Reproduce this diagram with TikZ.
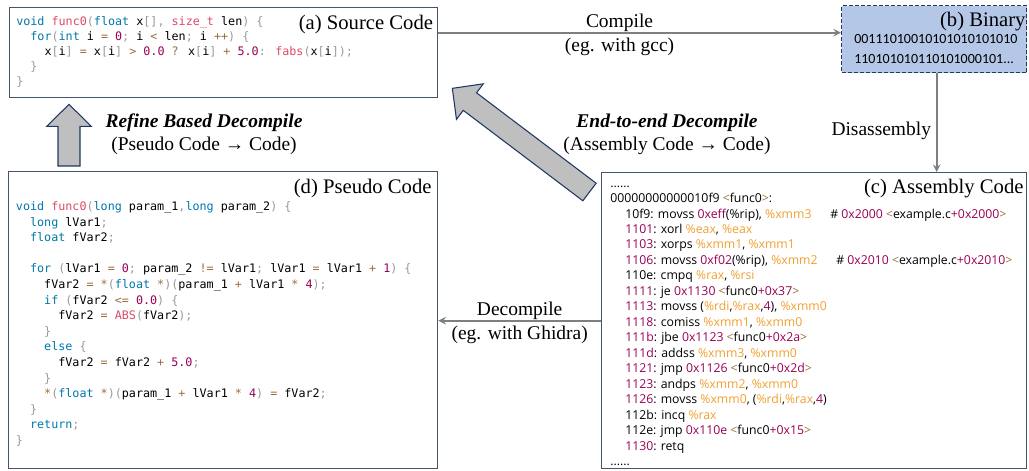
\documentclass[tikz,border=0pt]{standalone}
\usepackage{fontspec}
\setmainfont{Liberation Serif}
\newfontfamily\codefont{DejaVu Sans Mono}
\newfontfamily\asmfont{Open Sans}
\newfontfamily\binfont{Carlito}
\usetikzlibrary{calc}

\definecolor{boxline}{HTML}{44546A}
\definecolor{binfill}{HTML}{B4C7E7}
\definecolor{binline}{HTML}{203864}
\definecolor{arrowgray}{HTML}{7F7F7F}
\definecolor{blockfill}{HTML}{BFBFBF}
\definecolor{ckwc}{HTML}{0077AA}
\definecolor{cfnc}{HTML}{DD4A68}
\definecolor{cnumc}{HTML}{990055}
\definecolor{copc}{HTML}{9A6E3A}
\definecolor{cpuc}{HTML}{999999}
\definecolor{aregc}{HTML}{F0A030}

\newcommand{\ckw}[1]{\textcolor{ckwc}{#1}}
\newcommand{\cfn}[1]{\textcolor{cfnc}{#1}}
\newcommand{\cnum}[1]{\textcolor{cnumc}{#1}}
\newcommand{\cop}[1]{\textcolor{copc}{#1}}
\newcommand{\cpu}[1]{\textcolor{cpuc}{#1}}
\newcommand{\ind}{\hspace*{1.204em}}
\newcommand{\aad}[1]{\textcolor{cnumc}{#1}}
\newcommand{\areg}[1]{\textcolor{aregc}{#1}}
\newcommand{\aang}[1]{\textcolor{copc}{#1}}
\newcommand{\aind}{\hspace*{11.25pt}}

\begin{document}
\begin{tikzpicture}[x=0.75pt,y=-0.75pt,>=stealth,
    box/.style={draw=boxline,line width=1pt,inner sep=0,anchor=north west},
    boxtitle/.style={font=\fontsize{15.5}{18}\selectfont,inner sep=0,anchor=base east},
    lbl/.style={font=\fontsize{14.6}{17.25}\selectfont,inner sep=0,align=center},
    codetext/.style={font=\codefont\fontsize{8.8}{11.5}\selectfont,inner sep=0,align=left,anchor=north west},
    asmtext/.style={font=\asmfont\fontsize{9.2}{11.6}\selectfont,inner sep=0,align=left,anchor=north west},
    flow/.style={draw=arrowgray,line width=1.5pt,->},
    blockarrow/.style={fill=blockfill,draw=binline,line width=0.8pt}]
    \useasboundingbox (0,0) rectangle (1029,471);

    \node[box,minimum width=321pt,minimum height=67.5pt] (src) at (9,7) {};
    \node[box,draw=binline,fill=binfill,dash pattern=on 3pt off 1.5pt,minimum width=138.75pt,minimum height=50.25pt] (bin) at (841,5) {};
    \node[box,minimum width=318.75pt,minimum height=222pt] (asm) at (601,172) {};
    \node[box,minimum width=321.75pt,minimum height=222.75pt] (pseudo) at (8,171) {};

    \node[boxtitle] (srcname) at ([shift={(-5,22)}]src.north east) {(a) Source Code};
    \node[boxtitle] (binname) at ([shift={(-1.5,21.5)}]bin.north east) {(b) Binary};
    \node[boxtitle] (asmname) at ([shift={(-3.5,21)}]asm.north east) {(c) Assembly Code};
    \node[boxtitle] (pseudoname) at ([shift={(-6.5,22)}]pseudo.north east) {(d) Pseudo Code};

    \node[codetext,font=\codefont\fontsize{8.8}{11.25}\selectfont] (srccode) at ([shift={(7,7.6)}]src.north west) {\strut\ckw{void} \cfn{func0}\cpu{(}\ckw{float} x\cpu{[],} \cfn{size\_t} len\cpu{)} \cpu{\{}\\
        \ind\ckw{for}\cpu{(}\ckw{int} i \cop{=} \cnum{0}\cpu{;} i \cop{<} len\cpu{;} i \cop{++}\cpu{)} \cpu{\{}\\
        \ind\ind x\cpu{[}i\cpu{]} \cop{=} x\cpu{[}i\cpu{]} \cop{>} \cnum{0.0} \cop{?} x\cpu{[}i\cpu{]} \cop{+} \cnum{5.0}\cpu{:} \cfn{fabs}\cpu{(}x\cpu{[}i\cpu{]);}\\
        \ind\cpu{\}}\\
        \cpu{\}}};

    \node[inner sep=0,anchor=north west,align=left,font=\binfont\fontsize{10.5}{15}\selectfont] (bincode) at ([shift={(13,24.3)}]bin.north west) {\strut 00111010010101010101010\\110101010110101000101...};

    \node[asmtext] (asmcode) at ([shift={(9,4)}]asm.north west) {\strut......\\
        00000000000010f9 \aang{<}func0\aang{>}:\\
        \aind\makebox[153.75pt][l]{10f9: movss \aad{0xeff}(\%rip), \areg{\%xmm3}}\# \aad{0x2000} \aang{<}example.c\aad{+0x2000}\aang{>}\\
        \aind\aad{1101}: xorl \areg{\%eax}, \areg{\%eax}\\
        \aind\aad{1103}: xorps \areg{\%xmm1}, \areg{\%xmm1}\\
        \aind\makebox[158.25pt][l]{\aad{1106}: movss \aad{0xf02}(\%rip), \areg{\%xmm2}}\# \aad{0x2010} \aang{<}example.c\aad{+0x2010}\aang{>}\\
        \aind 110e: cmpq \areg{\%rax}, \areg{\%rsi}\\
        \aind\aad{1111}: je \aad{0x1130} \aang{<}func0\aad{+0x37}\aang{>}\\
        \aind\aad{1113}: movss (\areg{\%rdi},\areg{\%rax},\aad{4}), \areg{\%xmm0}\\
        \aind\aad{1118}: comiss \areg{\%xmm1}, \areg{\%xmm0}\\
        \aind\aad{111b}: jbe \aad{0x1123} \aang{<}func0\aad{+0x2a}\aang{>}\\
        \aind\aad{111d}: addss \areg{\%xmm3}, \areg{\%xmm0}\\
        \aind\aad{1121}: jmp \aad{0x1126} \aang{<}func0\aad{+0x2d}\aang{>}\\
        \aind\aad{1123}: andps \areg{\%xmm2}, \areg{\%xmm0}\\
        \aind\aad{1126}: movss \areg{\%xmm0}, (\areg{\%rdi},\areg{\%rax},\aad{4})\\
        \aind 112b: incq \areg{\%rax}\\
        \aind 112e: jmp \aad{0x110e} \aang{<}func0\aad{+0x15}\aang{>}\\
        \aind\aad{1130}: retq\\
        ......};

    \node[codetext,font=\codefont\fontsize{8.8}{11.7}\selectfont] (pseudocode) at ([shift={(7.7,28.3)}]pseudo.north west) {\strut\ckw{void} \cfn{func0}\cpu{(}\ckw{long} param\_1\cpu{,}\ckw{long} param\_2\cpu{)} \cpu{\{}\\
        \ind\ckw{long} lVar1\cpu{;}\\
        \ind\ckw{float} fVar2\cpu{;}\\
        \mbox{}\\
        \ind\ckw{for} \cpu{(}lVar1 \cop{=} \cnum{0}\cpu{;} param\_2 \cop{!=} lVar1\cpu{;} lVar1 \cop{=} lVar1 \cop{+} \cnum{1}\cpu{)} \cpu{\{}\\
        \ind\ind fVar2 \cop{=} \cop{*}\cpu{(}\ckw{float} \cop{*}\cpu{)(}param\_1 \cop{+} lVar1 \cop{*} \cnum{4}\cpu{);}\\
        \ind\ind\ckw{if} \cpu{(}fVar2 \cop{<=} \cnum{0.0}\cpu{)} \cpu{\{}\\
        \ind\ind\ind fVar2 \cop{=} \cfn{ABS}\cpu{(}fVar2\cpu{);}\\
        \ind\ind\cpu{\}}\\
        \ind\ind\ckw{else} \cpu{\{}\\
        \ind\ind\ind fVar2 \cop{=} fVar2 \cop{+} \cnum{5.0}\cpu{;}\\
        \ind\ind\cpu{\}}\\
        \ind\ind\cop{*}\cpu{(}\ckw{float} \cop{*}\cpu{)(}param\_1 \cop{+} lVar1 \cop{*} \cnum{4}\cpu{)} \cop{=} fVar2\cpu{;}\\
        \ind\cpu{\}}\\
        \ind\ckw{return}\cpu{;}\\
        \cpu{\}}};

    \draw[flow] ([shift={(0,-6.5)}]bin.west -| src.east) -- ([shift={(0,-6.5)}]bin.west)
        node[lbl,pos=0.45,above] (compile) {Compile}
        node[lbl,pos=0.45,below=3.5pt] (compilevia) {(eg. with gcc)};
    \draw[flow] ([shift={(2.5,0)}]bin.south) -- ([shift={(2.5,0)}]bin.south |- asm.north)
        node[lbl,pos=0.58,left=3.5pt] (disasm) {Disassembly};
    \draw[flow] (asm.west) -- (asm.west -| pseudo.east)
        node[lbl,midway,above] (decompile) {Decompile}
        node[lbl,midway,below=3.5pt] (decompilevia) {(eg. with Ghidra)};

    \coordinate (refbase) at ([shift={(61,-5)}]pseudo.north west);
    \coordinate (reftip) at ([shift={(60,6)}]src.south west);
    \coordinate (e2ebase) at ([shift={(-11.5,20)}]asm.north west);
    \coordinate (e2etip) at ([shift={(14,-10)}]src.south east);
    \foreach \abase/\atip in {refbase/reftip,e2ebase/e2etip}
        \draw[blockarrow] ($(\abase)!8.25pt!90:(\atip)$) -- ($(\atip)!16.5pt!(\abase)!8.25pt!90:(\atip)$)
            -- ($(\atip)!16.5pt!(\abase)!16.7pt!90:(\atip)$) -- (\atip)
            -- ($(\atip)!16.5pt!(\abase)!16.7pt!-90:(\atip)$) -- ($(\atip)!16.5pt!(\abase)!8.25pt!-90:(\atip)$)
            -- ($(\abase)!8.25pt!-90:(\atip)$) -- cycle;

    \node[lbl] (refinelbl) at (204,134.5) {\textbf{\textit{Refine Based Decompile}}\\(Pseudo Code → Code)};
    \node[lbl] (e2elbl) at (667,134.5) {\textbf{\textit{End-to-end Decompile}}\\(Assembly Code → Code)};
\end{tikzpicture}
\end{document}
